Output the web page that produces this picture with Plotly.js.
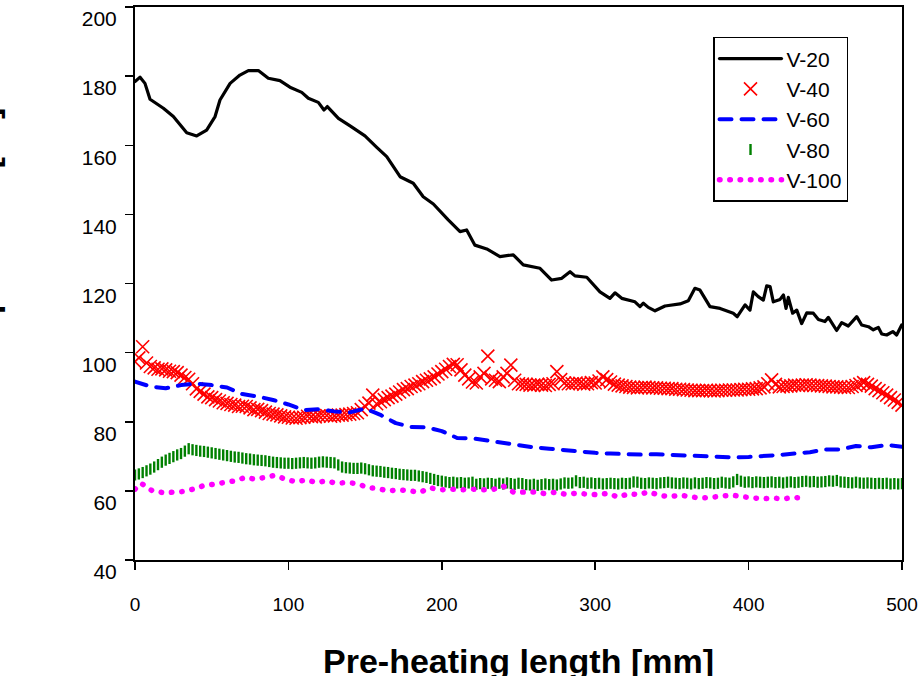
<!DOCTYPE html>
<html>
<head>
<meta charset="utf-8">
<script src="https://cdn.plot.ly/plotly-3.0.1.min.js"></script>
<style>
  html, body { margin: 0; padding: 0; background: #fff; }
  #chart { width: 922px; height: 676px; }
  .scatterlayer .js-line, .legend .js-line { stroke-linecap: round; stroke-linejoin: round; }
</style>
</head>
<body>
<div id="chart"></div>
<script>
// ---- data ----
const seriesNames = ["V-20", "V-40", "V-60", "V-80", "V-100"];
const xTicks = [0, 100, 200, 300, 400, 500];
const yTicks = [40, 60, 80, 100, 120, 140, 160, 180, 200];

// V-20 (black solid line) [x, y]
const v20 = [
  [0,178.4],[3.3,179.7],[6.5,177.9],[9.8,173.3],[18.5,170.7],[25,168.3],[33.7,163.6],[40.2,162.7],
  [46.7,164.4],[52.2,168.3],[55.4,173.1],[62,177.9],[68.4,180.3],[73.9,181.6],[80.4,181.6],[86.9,179.4],
  [94.5,178.7],[101,176.8],[108.7,175.3],[113,173.6],[119.5,172.4],[123.2,170.2],[125.4,171.2],[132.6,167.8],
  [140.2,165.6],[149.9,162.7],[157.6,159.4],[164.1,156.7],[172.8,150.9],[181.4,149],[187.9,145.1],[194.5,143],
  [204.2,138.4],[211.9,135],[216.2,135.5],[221.6,131.1],[229.3,130],[237.9,127.8],[246.6,128.3],[253.1,125.4],
  [264,124.4],[271.6,121],[278.2,121.5],[283.6,123.4],[286.8,122.2],[294.5,121.8],[303.1,117.6],[309.6,115.7],
  [312.9,117.3],[317.3,115.7],[325.9,114.7],[329.2,113.3],[331.4,114.3],[334.6,113.1],[339,112.1],[345.5,113.5],
  [355.3,114.1],[360.7,115],[365,118.6],[368.3,118.1],[374.8,113.3],[381.4,112.8],[390,111.4],[392.6,110.4],
  [397.7,113.8],[400.9,112.3],[403.1,117.6],[406.3,116.2],[409.6,115.2],[411.8,119.3],[414,119.1],[416.1,114.7],
  [420.5,115.4],[422.7,116.7],[424.4,112.8],[425.9,116],[428.7,111.4],[431.4,112.3],[434.6,108.4],[437.9,111.5],
  [442.2,111.4],[445.5,109.6],[449.8,109],[452,110.2],[457.4,106.4],[460.7,108.7],[465,107.7],[470.5,110.4],
  [473.7,108],[478.1,107.5],[481.3,106.6],[484.6,107.3],[486.8,105.4],[490,105.1],[494,106.1],[496.5,105.1],[499.8,108]
];

// V-40 (red crosses) [x, y]
const v40 = [
  [0,97.4],[2.5,98.5],[5,101.7],[7.5,97],[10,96],[12.5,95.6],[15,95.2],[17.5,95.3],[20,95],[22.5,94.6],
  [25,94.5],[27.5,94.2],[30,93.5],[32.5,92.8],[35,92.3],[37.5,91],[40,89.5],[42.5,88.8],[45,88],[47.5,87.2],
  [50,87],[52.5,86.4],[55,86],[57.5,85.5],[60,85.3],[62.5,85],[65,84.8],[67.5,84.4],[70,84.5],[72.5,84.4],
  [75,84],[77.5,83.5],[80,83.6],[82.5,83.2],[85,82.8],[87.5,82.4],[90,82.2],[92.5,82],[95,81.7],[97.5,81.4],
  [100,81.3],[102.5,81.1],[105,81],[107.5,81.2],[110,81.3],[112.5,81.6],[115,81.5],[117.5,81.4],[120,81.7],[122.5,81.8],
  [125,81.8],[127.5,81.6],[130,81.7],[132.5,81.9],[135,81.9],[137.5,82.1],[140,82.2],[142.5,82.4],[145,82.6],[147.5,83.5],
  [150,84.5],[152.5,85.4],[155,87.7],[157.5,85.2],[160,85.8],[162.5,86.4],[165,87],[167.5,87.4],[170,88],[172.5,88.6],
  [175,89.3],[177.5,89.6],[180,90.2],[182.5,90.6],[185,91],[187.5,91.6],[190,92],[192.5,92.4],[195,93],[197.5,93.8],
  [200,94.5],[202.5,95.2],[205,96],[207.5,96.6],[210,96.5],[212.5,95],[215,93.5],[217.5,92.4],[220,91.5],[222.5,91.2],
  [225,93],[227.5,94],[230,99],[232.5,92.4],[235,92],[237.5,91.6],[240,93],[242.5,94],[245,96.4],[247.5,92],
  [250,91],[252.5,90.9],[255,90.8],[257.5,90.6],[260,90.6],[262.5,90.8],[265,90.6],[267.5,90.5],[270,90.8],[272.5,91],
  [275,94.5],[277.5,92.2],[280,91.2],[282.5,91],[285,91],[287.5,91.2],[290,91.1],[292.5,90.9],[295,91],[297.5,91.3],
  [300,91.2],[302.5,91.8],[305,93],[307.5,92.2],[310,91.5],[312.5,90.9],[315,90.6],[317.5,90.4],[320,90.2],[322.5,90],
  [325,89.9],[327.5,89.8],[330,89.9],[332.5,90],[335,89.9],[337.5,89.8],[340,89.8],[342.5,89.7],[345,89.7],[347.5,89.6],
  [350,89.6],[352.5,89.4],[355,89.4],[357.5,89.3],[360,89.2],[362.5,89.1],[365,89],[367.5,89],[370,89],[372.5,89.1],
  [375,89],[377.5,88.9],[380,89],[382.5,89.1],[385,89.1],[387.5,89.2],[390,89.2],[392.5,89.2],[395,89.3],[397.5,89.4],
  [400,89.4],[402.5,89.5],[405,89.6],[407.5,89.8],[410,90.1],[412.5,91],[415,92.1],[417.5,90.8],[420,90.1],[422.5,90.2],
  [425,90.3],[427.5,90.4],[430,90.6],[432.5,90.5],[435,90.6],[437.5,90.7],[440,90.6],[442.5,90.5],[445,90.5],[447.5,90.4],
  [450,90.3],[452.5,90.2],[455,90.1],[457.5,90.1],[460,90],[462.5,89.9],[465,89.9],[467.5,90.2],[470,90.5],[472.5,90.9],
  [475,91.3],[477.5,90.8],[480,90.3],[482.5,89.6],[485,89],[487.5,88.4],[490,87.7],[492.5,87],[495,86.3],[497.5,85.6],[500,84.8]
];

// V-60 (blue dashed line) [x, y]
const v60 = [
  [0,91.6],[10,90.2],[20,89.7],[30,90.6],[40,91],[50,90.6],[60,89.9],[70,88],[80,87.3],[90,86.3],
  [100,85],[110,83.4],[120,83.6],[130,83],[140,82.7],[150,83.8],[160,82],[170,79.6],[180,78.5],[190,78.4],
  [200,77.3],[210,75.3],[220,75.2],[230,74.5],[240,73.9],[250,73.2],[260,72.6],[270,72.2],[280,71.8],[290,71.3],
  [300,71],[310,70.8],[320,70.6],[330,70.5],[340,70.6],[350,70.4],[360,70.2],[370,70],[380,69.7],[390,69.7],
  [400,69.8],[410,70],[420,70.4],[430,70.8],[440,71.2],[450,72],[460,72],[470,73],[480,72.6],[490,73.3],[500,72.8]
];

// V-80 (green ticks) [x, y]
const v80 = [
  [0,64.6],[2.5,64.9],[5,65.3],[7.5,65.8],[10,66.3],[12.5,66.9],[15,67.6],[17.5,68.3],[20,68.9],[22.5,69.4],
  [25,69.9],[27.5,70.4],[30,70.8],[32.5,71.5],[35,72.2],[37.5,71.9],[40,71.7],[42.5,71.5],[45,71.4],[47.5,71.2],
  [50,71.0],[52.5,70.8],[55,70.6],[57.5,70.4],[60,70.2],[62.5,70.0],[65,69.8],[67.5,69.7],[70,69.5],[72.5,69.3],
  [75,69.2],[77.5,69.0],[80,68.9],[82.5,68.8],[85,68.7],[87.5,68.5],[90,68.3],[92.5,68.2],[95,68.1],[97.5,68.0],
  [100,68.0],[102.5,67.9],[105,68.0],[107.5,68.1],[110,68.2],[112.5,68.1],[115,68.0],[117.5,68.1],[120,68.3],[122.5,68.4],
  [125,68.3],[127.5,68.2],[130,68.1],[132.5,67.5],[135,66.9],[137.5,66.7],[140,66.6],[142.5,66.5],[145,66.5],[147.5,66.6],
  [150,66.4],[152.5,66.1],[155,65.8],[157.5,65.7],[160,65.6],[162.5,65.4],[165,65.3],[167.5,65.1],[170,65.0],[172.5,64.8],
  [175,64.7],[177.5,64.6],[180,64.5],[182.5,64.5],[185,64.3],[187.5,64.1],[190,63.9],[192.5,63.6],[195,63.3],[197.5,63.0],
  [200,62.8],[202.5,62.6],[205,62.4],[207.5,62.5],[210,62.3],[212.5,62.4],[215,62.2],[217.5,62.3],[220,62.5],[222.5,61.9],
  [225,62.1],[227.5,62.0],[230,62.2],[232.5,62.1],[235,61.9],[237.5,62.2],[240,62.0],[242.5,62.3],[245,62.1],[247.5,61.9],
  [250,62.2],[252.5,62.1],[255,61.8],[257.5,61.7],[260,61.9],[262.5,61.6],[265,61.8],[267.5,62.0],[270,61.8],[272.5,61.9],
  [275,61.7],[277.5,62.0],[280,62.3],[282.5,62.2],[285,62.3],[287.5,62.9],[290,62.4],[292.5,62.5],[295,62.2],[297.5,62.3],
  [300,62.1],[302.5,62.2],[305,62.0],[307.5,62.1],[310,62.2],[312.5,62.1],[315,62.0],[317.5,62.2],[320,62.1],[322.5,62.2],
  [325,62.6],[327.5,62.5],[330,62.2],[332.5,62.1],[335,62.3],[337.5,62.2],[340,62.1],[342.5,62.3],[345,62.4],[347.5,62.5],
  [350,62.3],[352.5,62.2],[355,62.1],[357.5,62.3],[360,62.2],[362.5,62.0],[365,62.3],[367.5,62.1],[370,62.2],[372.5,62.4],
  [375,62.3],[377.5,62.1],[380,62.2],[382.5,62.5],[385,62.3],[387.5,62.2],[390,62.6],[392.5,63.3],[395,62.8],[397.5,62.5],
  [400,62.6],[402.5,62.4],[405,62.6],[407.5,62.5],[410,62.4],[412.5,62.5],[415,62.6],[417.5,62.4],[420,62.5],[422.5,62.3],
  [425,62.5],[427.5,62.6],[430,62.4],[432.5,62.5],[435,62.7],[437.5,62.8],[440,62.6],[442.5,62.7],[445,62.5],[447.5,62.6],
  [450,62.7],[452.5,62.9],[455,62.8],[457.5,63.0],[460,62.6],[462.5,62.5],[465,62.4],[467.5,62.3],[470,62.5],[472.5,62.3],
  [475,62.2],[477.5,62.3],[480,62.2],[482.5,62.1],[485,62.2],[487.5,62.1],[490,62.2],[492.5,62.0],[495,62.1],[497.5,62.0],[500,62.1]
];

// V-100 (magenta dotted line) [x, y]
const v100 = [
  [0,60.5],[4,62.2],[11,60.1],[18,59.5],[24,59.6],[31,59.8],[38,60.5],[44,61.4],[51,61.9],[58,62.2],
  [65,62.9],[72,63.9],[78,63.4],[85,63.9],[91,64.5],[98,63.4],[105,62.6],[112,63.2],[118,62.4],[125,62.9],
  [131,62.2],[138,62.4],[145,62.1],[152,60.9],[158,60.7],[165,60.0],[172,60.3],[179,60.0],[186,59.6],[192,60.9],
  [199,60.3],[206,60.5],[213,60.3],[220,60.5],[227,60.3],[234,60.5],[240,61.4],[247,59.6],[254,59.8],[261,59.7],
  [267,59.2],[274,59.6],[281,59.0],[287,59.3],[294,59.1],[302,58.9],[308,59.3],[315,58.2],[322,59.2],[328,58.9],
  [335,59.7],[342,58.7],[349,58.3],[355,58.8],[362,58.3],[369,57.9],[375,58.1],[382,58.4],[389,58.8],[396,58.3],
  [403,58.1],[409,57.7],[416,57.9],[423,57.7],[429,58.1],[436,57.9]
];

const xTitle = "Pre-heating length [mm]";
const yTitle = "Max. temperature [°C]";

// ---- chart ----
const xs = d => d.map(p => p[0]);
const ys = d => d.map(p => p[1]);
const FONT = "Arial, 'Liberation Sans', sans-serif";

const traces = [
  { x: xs(v20), y: ys(v20), name: seriesNames[0], type: "scatter", mode: "lines",
    line: { color: "#000000", width: 3.2 } },
  { x: xs(v40), y: ys(v40), name: seriesNames[1], type: "scatter", mode: "markers",
    marker: { symbol: "x-thin-open", size: 13, color: "#FF0000", line: { color: "#FF0000", width: 1.6 } } },
  { x: xs(v60), y: ys(v60), name: seriesNames[2], type: "scatter", mode: "lines",
    line: { color: "#0000FF", width: 4, dash: "12px,10px" } },
  { x: xs(v80), y: ys(v80), name: seriesNames[3], type: "scatter", mode: "markers",
    marker: { symbol: "line-ns-open", size: 8, color: "#008000", line: { color: "#008000", width: 2.4 } } },
  { x: xs(v100), y: ys(v100), name: seriesNames[4], type: "scatter", mode: "lines",
    line: { color: "#FF00FF", width: 5.5, dash: "0.5px,9.8px" } }
];

const axisCommon = {
  showgrid: false, zeroline: false, showline: true, mirror: true,
  linecolor: "#000000", linewidth: 2,
  ticks: "outside", ticklen: 8, tickwidth: 1.5, tickcolor: "#000000",
  tickfont: { family: FONT, size: 19, color: "#000000" },
  fixedrange: true
};

const layout = {
  width: 922, height: 676,
  margin: { l: 135, r: 20, t: 7, b: 116 },
  paper_bgcolor: "#ffffff", plot_bgcolor: "#ffffff",
  font: { family: FONT, color: "#000000" },
  showlegend: true,
  xaxis: Object.assign({}, axisCommon, {
    range: [0, 500], tickvals: xTicks, ticktext: xTicks.map(String),
    ticklabelstandoff: 18
  }),
  yaxis: Object.assign({}, axisCommon, {
    range: [40, 200], tickvals: yTicks, ticktext: yTicks.map(String),
    tickfont: { family: FONT, size: 21, color: "#000000" },
    ticklabelstandoff: 4, ticklabelshift: 12
  }),
  legend: {
    x: 0.7536, y: 0.9458, xanchor: "left", yanchor: "top",
    bgcolor: "#ffffff", bordercolor: "#000000", borderwidth: 1.5,
    font: { family: FONT, size: 21, color: "#000000" },
    itemwidth: 62, tracegroupgap: 0
  },
  annotations: [
    { text: "<b>" + xTitle + "</b>", xref: "paper", yref: "paper", x: 0.5, y: 0,
      xanchor: "center", yanchor: "top", yshift: -80, showarrow: false,
      font: { family: FONT, size: 34, color: "#000000" } },
    { text: "<b>" + yTitle + "</b>", xref: "paper", yref: "paper", x: 0, y: 0.5,
      xanchor: "center", yanchor: "middle", xshift: -150, textangle: -90, showarrow: false,
      font: { family: FONT, size: 34, color: "#000000" } }
  ]
};

Plotly.newPlot("chart", traces, layout, { displayModeBar: false, staticPlot: true });
</script>
</body>
</html>
